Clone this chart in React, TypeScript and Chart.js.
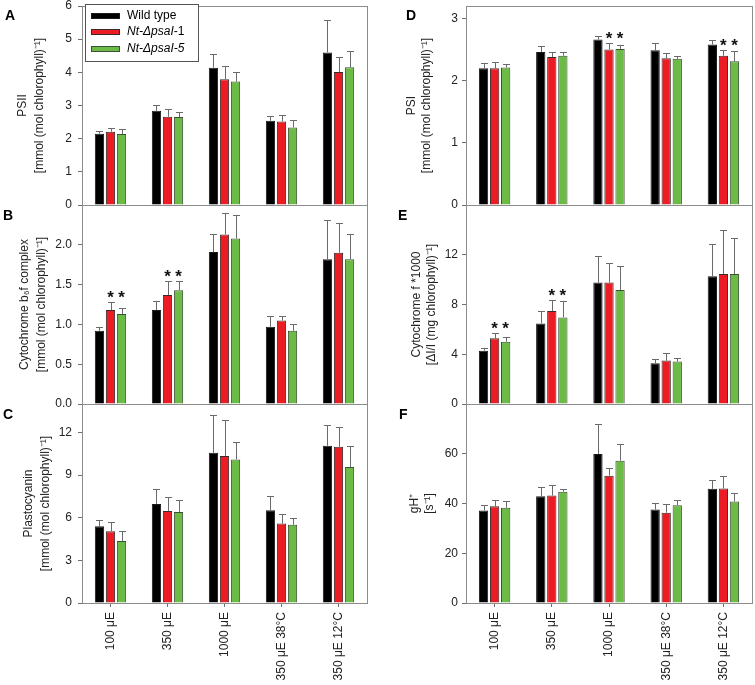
import React, { useEffect, useRef } from "react";
import { Chart, registerables } from "chart.js";

Chart.register(...registerables);

const FONT = "'Liberation Sans', Arial, Helvetica, sans-serif";

// ---------- data ----------
const CATEGORIES = ["100 μE", "350 μE", "1000 μE", "350 μE 38°C", "350 μE 12°C"];
const SERIES = ["Wild type", "Nt-ΔpsaI-1", "Nt-ΔpsaI-5"];
const COLORS = ["#000000", "#ec1c24", "#6bbb46"];
const BORDER_COLORS = ["#1a1a1a", "#3a2a2a", "#3d4f35"];

// A: PSII
const PSII_WT = [2.15, 2.84, 4.14, 2.54, 4.6];
const PSII_M1 = [2.21, 2.66, 3.79, 2.52, 4.01];
const PSII_M5 = [2.14, 2.65, 3.72, 2.34, 4.15];
const PSII_WT_SD = [0.08, 0.19, 0.4, 0.15, 0.97];
const PSII_M1_SD = [0.12, 0.23, 0.39, 0.2, 0.45];
const PSII_M5_SD = [0.14, 0.14, 0.28, 0.21, 0.48];
const PSII_STARS: number[] = [];

// B: Cytochrome b6f
const B6F_WT = [0.92, 1.18, 1.91, 0.97, 1.82];
const B6F_M1 = [1.18, 1.37, 2.13, 1.05, 1.9];
const B6F_M5 = [1.13, 1.43, 2.08, 0.92, 1.82];
const B6F_WT_SD = [0.05, 0.11, 0.22, 0.14, 0.49];
const B6F_M1_SD = [0.1, 0.18, 0.27, 0.06, 0.38];
const B6F_M5_SD = [0.08, 0.12, 0.3, 0.09, 0.32];
const B6F_STARS = [0, 1];

// C: Plastocyanin
const PC_WT = [5.4, 6.97, 10.57, 6.53, 11.06];
const PC_M1 = [5.05, 6.48, 10.34, 5.59, 10.99];
const PC_M5 = [4.37, 6.41, 10.1, 5.5, 9.57];
const PC_WT_SD = [0.47, 1.05, 2.69, 0.98, 1.43];
const PC_M1_SD = [0.68, 0.96, 2.53, 0.66, 1.36];
const PC_M5_SD = [0.73, 0.82, 1.22, 0.51, 1.49];
const PC_STARS: number[] = [];

// D: PSI
const PSI_WT = [2.2, 2.46, 2.66, 2.49, 2.58];
const PSI_M1 = [2.2, 2.38, 2.5, 2.36, 2.4];
const PSI_M5 = [2.21, 2.4, 2.51, 2.35, 2.31];
const PSI_WT_SD = [0.09, 0.09, 0.05, 0.11, 0.08];
const PSI_M1_SD = [0.1, 0.08, 0.1, 0.09, 0.09];
const PSI_M5_SD = [0.05, 0.06, 0.07, 0.04, 0.16];
const PSI_STARS = [2, 4];

// E: Cytochrome f
const CYTF_WT = [4.29, 6.48, 9.76, 3.28, 10.27];
const CYTF_M1 = [5.28, 7.47, 9.76, 3.49, 10.45];
const CYTF_M5 = [5.01, 6.96, 9.17, 3.41, 10.45];
const CYTF_WT_SD = [0.19, 1.01, 2.11, 0.32, 2.58];
const CYTF_M1_SD = [0.4, 0.93, 1.57, 0.59, 3.52];
const CYTF_M5_SD = [0.4, 1.31, 1.9, 0.27, 2.88];
const CYTF_STARS = [0, 1];

// F: gH+
const GH_WT = [37.2, 42.9, 59.9, 37.6, 45.9];
const GH_M1 = [38.9, 43.2, 51.2, 36.3, 46.0];
const GH_M5 = [38.3, 44.7, 57.2, 39.3, 40.8];
const GH_WT_SD = [2.0, 3.9, 12.0, 2.8, 3.4];
const GH_M1_SD = [2.6, 4.1, 3.1, 3.7, 5.2];
const GH_M5_SD = [2.6, 1.2, 6.7, 2.2, 3.6];
const GH_STARS: number[] = [];

const LEGEND_PARTS = [
  [{ text: "Wild type", italic: false }],
  [{ text: "Nt-ΔpsaI", italic: true }, { text: "-1", italic: false }],
  [{ text: "Nt-ΔpsaI-5", italic: true }],
];

// ---------- panel definitions ----------
type PanelDef = {
  letter: string;
  letterX: number;
  col: number;
  row: number;
  title: string[];
  titleX: number;
  max: number;
  step: number;
  decimals: number;
  showTop: boolean;
  values: number[][];
  sds: number[][];
  stars: number[];
  legend?: boolean;
};

const PANELS: PanelDef[] = [
  { letter: "A", letterX: 5, col: 0, row: 0, title: ["PSII", "[mmol (mol chlorophyll)⁻¹]"], titleX: 23, max: 6, step: 1, decimals: 0, showTop: true,
    values: [PSII_WT, PSII_M1, PSII_M5], sds: [PSII_WT_SD, PSII_M1_SD, PSII_M5_SD], stars: PSII_STARS, legend: true },
  { letter: "B", letterX: 3, col: 0, row: 1, title: ["Cytochrome b₆f complex", "[mmol (mol chlorophyll)⁻¹]"], titleX: 25, max: 2.5, step: 0.5, decimals: 1, showTop: false,
    values: [B6F_WT, B6F_M1, B6F_M5], sds: [B6F_WT_SD, B6F_M1_SD, B6F_M5_SD], stars: B6F_STARS },
  { letter: "C", letterX: 3, col: 0, row: 2, title: ["Plastocyanin", "[mmol (mol chlorophyll)⁻¹]"], titleX: 29, max: 14, step: 3, decimals: 0, showTop: false,
    values: [PC_WT, PC_M1, PC_M5], sds: [PC_WT_SD, PC_M1_SD, PC_M5_SD], stars: PC_STARS },
  { letter: "D", letterX: 406, col: 1, row: 0, title: ["PSI", "[mmol (mol chlorophyll)⁻¹]"], titleX: 32, max: 3.2, step: 1, decimals: 0, showTop: false,
    values: [PSI_WT, PSI_M1, PSI_M5], sds: [PSI_WT_SD, PSI_M1_SD, PSI_M5_SD], stars: PSI_STARS },
  { letter: "E", letterX: 398, col: 1, row: 1, title: ["Cytochrome f *1000", "[ΔI/I (mg chlorophyll)⁻¹]"], titleX: 37, max: 16, step: 4, decimals: 0, showTop: false,
    values: [CYTF_WT, CYTF_M1, CYTF_M5], sds: [CYTF_WT_SD, CYTF_M1_SD, CYTF_M5_SD], stars: CYTF_STARS },
  { letter: "F", letterX: 399, col: 1, row: 2, title: ["gH⁺", "[s⁻¹]"], titleX: 35, max: 80, step: 20, decimals: 0, showTop: false,
    values: [GH_WT, GH_M1, GH_M5], sds: [GH_WT_SD, GH_M1_SD, GH_M5_SD], stars: GH_STARS },
];

const AXIS_COLOR = "#8c8c8c";
const TICK_MARK_COLOR = "#6f6f6f";
const ERR_COLOR = "#6a6a6a";
const TEXT_COLOR = "#222";
const PLOT_H = 199;
const PLOT_TOP = 6;
const TICK_FONT = 12;

function geometry(def: PanelDef) {
  const x = def.col === 0 ? 0 : 380;
  const w = def.col === 0 ? 377 : 375;
  const axisW = def.col === 0 ? 82 : 86;
  const padRight = def.col === 0 ? 10 : 3;
  const tickPad = def.col === 0 ? 6 : 4;
  // Chart.js reserves half a tick label plus the tick padding above the plot
  const topOff = TICK_FONT / 2 + tickPad;
  const chartTop = PLOT_TOP + PLOT_H * def.row;
  const y = chartTop - topOff;
  const bottomH = def.row === 2 ? 82 : 14;
  const h = topOff + PLOT_H + bottomH;
  const lineH = def.col === 0 ? 16.8 : 15;
  return { x, y, w, h, axisW, padRight, bottomH, lineH, tickPad };
}

function makeDecor(def: PanelDef) {
  return {
    id: "decor" + def.letter,
    afterDatasetsDraw(chart: any) {
      const { ctx, chartArea: ca, scales } = chart;
      const ys = scales.y;
      ctx.save();
      const tops: number[][] = [];
      const xs: number[][] = [];
      chart.data.datasets.forEach((ds: any, di: number) => {
        const meta = chart.getDatasetMeta(di);
        tops[di] = [];
        xs[di] = [];
        meta.data.forEach((bar: any, i: number) => {
          const v = ds.data[i];
          const e = ds.errors[i];
          const yb = ys.getPixelForValue(v);
          const yt = Math.round(ys.getPixelForValue(v + e)) + 0.5;
          tops[di][i] = yt;
          xs[di][i] = bar.x;
          const x = Math.round(bar.x) + 0.5;
          ctx.strokeStyle = ERR_COLOR;
          ctx.lineWidth = 1;
          ctx.beginPath();
          ctx.moveTo(x, yb);
          ctx.lineTo(x, yt);
          ctx.moveTo(x - 3.5, yt);
          ctx.lineTo(x + 3.5, yt);
          ctx.stroke();
        });
      });
      // significance asterisks over mutant lines
      ctx.fillStyle = "#111";
      ctx.font = `bold 17px ${FONT}`;
      ctx.textAlign = "center";
      ctx.textBaseline = "alphabetic";
      def.stars.forEach((g) => {
        const top = Math.min(tops[1][g], tops[2][g]);
        [1, 2].forEach((di) => {
          ctx.fillText("*", xs[di][g], top);
        });
      });
      // frame
      ctx.strokeStyle = AXIS_COLOR;
      ctx.lineWidth = 1;
      ctx.strokeRect(Math.round(ca.left) + 0.5, Math.round(ca.top) + 0.5, Math.round(ca.right - ca.left), Math.round(ca.bottom - ca.top));
      // legend
      if (def.legend) {
        const bx = 85.5, by = 10.5, bw = 113, bh = 57;
        ctx.fillStyle = "#fff";
        ctx.fillRect(bx, by, bw, bh);
        ctx.strokeStyle = "#555";
        ctx.strokeRect(bx, by, bw, bh);
        LEGEND_PARTS.forEach((parts, k) => {
          const cy = 21.5 + k * 16.6;
          ctx.fillStyle = COLORS[k];
          ctx.fillRect(91, Math.round(cy) - 3, 29, 6);
          ctx.strokeStyle = BORDER_COLORS[k];
          ctx.strokeRect(91.5, Math.round(cy) - 2.5, 28, 5);
          let tx = 127;
          ctx.fillStyle = "#000";
          ctx.textAlign = "left";
          ctx.textBaseline = "middle";
          parts.forEach((p) => {
            ctx.font = `${p.italic ? "italic " : ""}12px ${FONT}`;
            ctx.fillText(p.text, tx, cy);
            tx += ctx.measureText(p.text).width;
          });
        });
      }
      ctx.restore();
    },
  };
}

function Panel({ def }: { def: PanelDef }) {
  const ref = useRef<HTMLCanvasElement>(null);
  const g = geometry(def);
  useEffect(() => {
    const isBottom = def.row === 2;
    const chart = new Chart(ref.current as HTMLCanvasElement, {
      type: "bar",
      data: {
        labels: CATEGORIES,
        datasets: def.values.map((vals, k) => ({
          label: SERIES[k],
          data: vals,
          backgroundColor: COLORS[k],
          borderColor: BORDER_COLORS[k],
          borderWidth: 1,
          borderSkipped: "start",
          categoryPercentage: 0.58,
          barPercentage: 0.84,
          errors: def.sds[k],
        })) as any,
      },
      options: {
        responsive: false,
        animation: false,
        devicePixelRatio: 1,
        events: [],
        layout: { padding: { top: 0, right: g.padRight, bottom: 0, left: 0 } },
        plugins: { legend: { display: false }, tooltip: { enabled: false } },
        scales: {
          x: {
            display: true,
            grid: {
              display: isBottom,
              drawOnChartArea: false,
              drawTicks: true,
              tickLength: 4,
              color: TICK_MARK_COLOR,
              offset: false,
            },
            border: { display: false },
            ticks: {
              display: isBottom,
              maxRotation: 90,
              minRotation: 90,
              autoSkip: false,
              padding: 5,
              color: TEXT_COLOR,
              font: { family: FONT, size: 12 },
            },
            afterFit: (scale: any) => {
              scale.height = g.bottomH;
            },
          },
          y: {
            min: 0,
            max: def.max,
            grid: {
              display: true,
              drawOnChartArea: false,
              drawTicks: true,
              tickLength: 4,
              color: TICK_MARK_COLOR,
            },
            border: { display: false },
            ticks: {
              stepSize: def.step,
              includeBounds: false,
              padding: g.tickPad,
              color: TEXT_COLOR,
              font: { family: FONT, size: TICK_FONT, lineHeight: 1 },
              callback: (value: any) => {
                const v = Number(value);
                if (!def.showTop && Math.abs(v - def.max) < 1e-9) return "";
                return v.toFixed(def.decimals);
              },
            },
            title: {
              display: true,
              text: def.title,
              color: TEXT_COLOR,
              font: { family: FONT, size: 12, lineHeight: g.lineH / 12 },
              padding: { top: def.titleX - g.lineH / 2, bottom: 0 },
            },
            afterFit: (scale: any) => {
              scale.width = g.axisW;
            },
          },
        },
      } as any,
      plugins: [makeDecor(def)],
    });
    return () => chart.destroy();
  }, []);
  return (
    <canvas
      ref={ref}
      width={g.w}
      height={g.h}
      style={{ position: "absolute", left: g.x, top: g.y, width: g.w, height: g.h }}
    />
  );
}

export default function App() {
  return (
    <div style={{ position: "absolute", left: 0, top: 0, width: 755, height: 685, background: "#fff", overflow: "hidden" }}>
      {PANELS.map((p) => (
        <Panel key={p.letter} def={p} />
      ))}
      {PANELS.map((p) => (
        <div
          key={"L" + p.letter}
          style={{
            position: "absolute",
            left: p.letterX,
            top: 15 + PLOT_H * p.row + (p.row > 0 ? 1 : 0) - 7,
            fontFamily: FONT,
            fontWeight: "bold",
            fontSize: 14,
            lineHeight: "14px",
            color: "#000",
          }}
        >
          {p.letter}
        </div>
      ))}
    </div>
  );
}
